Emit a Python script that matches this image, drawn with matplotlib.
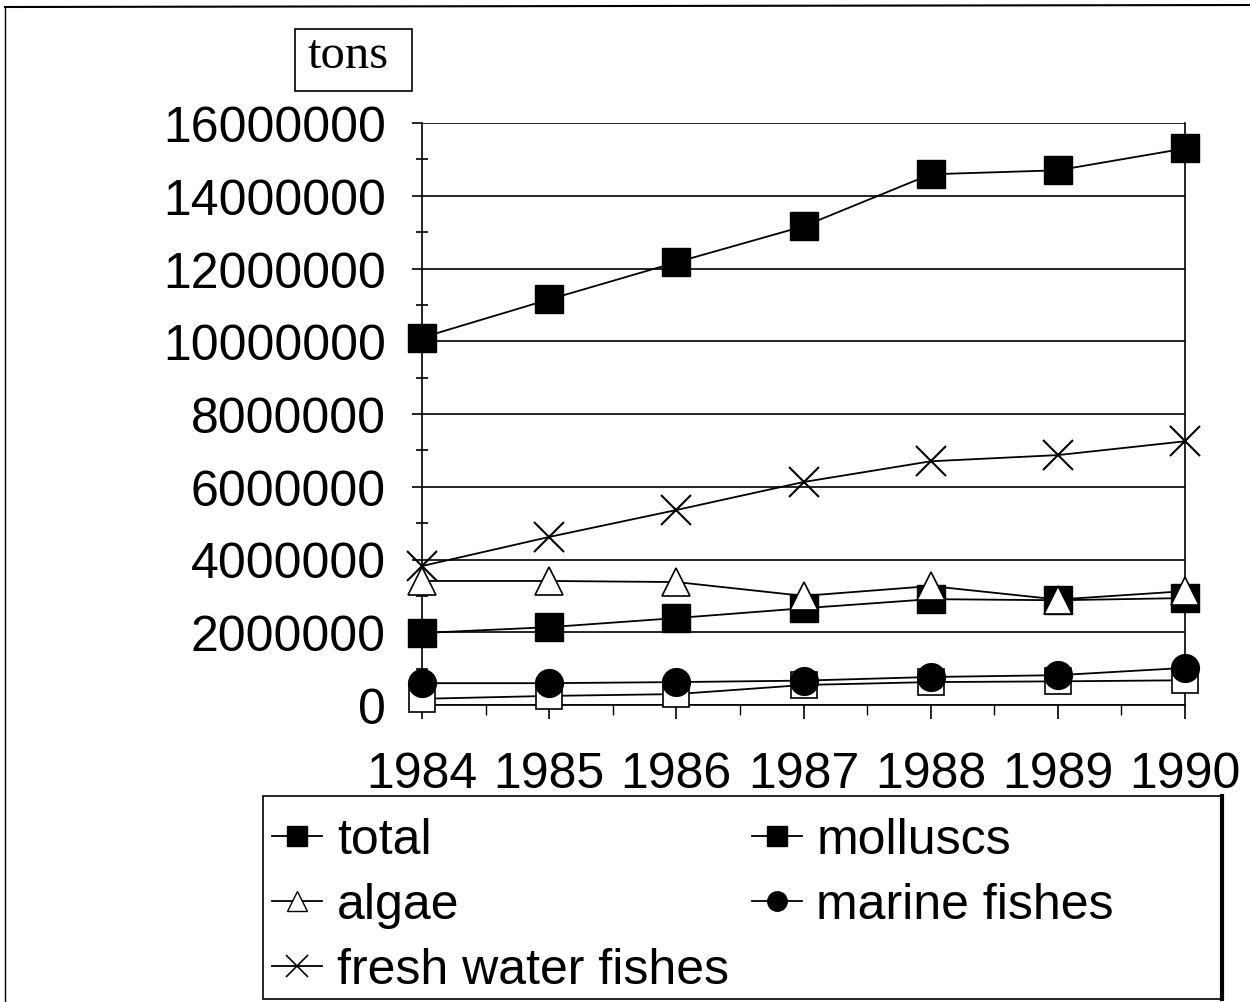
import matplotlib
matplotlib.use("Agg")
import matplotlib.pyplot as plt
from matplotlib.ticker import MultipleLocator
from matplotlib.lines import Line2D
from matplotlib.patches import Rectangle

years = [1984, 1985, 1986, 1987, 1988, 1989, 1990]
total = [10100000, 11150000, 12170000, 13160000, 14590000, 14700000, 15300000]
fresh_water_fishes = [3820000, 4620000, 5360000, 6130000, 6700000, 6870000, 7250000]
algae = [3410000, 3410000, 3380000, 3000000, 3270000, 2900000, 3130000]
molluscs = [1980000, 2140000, 2390000, 2660000, 2910000, 2880000, 2940000]
marine_fishes = [600000, 600000, 630000, 670000, 770000, 820000, 1020000]
other = [170000, 250000, 300000, 550000, 630000, 650000, 680000]
y_ticks = [0, 2000000, 4000000, 6000000, 8000000, 10000000, 12000000, 14000000, 16000000]

plt.rcParams['font.family'] = ['Liberation Sans', 'DejaVu Sans']

fig = plt.figure(figsize=(12.5, 10.03), dpi=100)
W, H = 1250, 1003
ax = fig.add_axes([422 / W, 1 - 706 / H, (1185 - 422) / W, (706 - 124) / H])

lw = 1.3
kw = dict(color='black', lw=lw, clip_on=False)
ax.plot(years, other, marker='s', ms=19, mfc='white', mec='black', mew=1.2, zorder=3, **kw)
ax.plot(years, marine_fishes, marker='o', ms=20, mfc='black', mec='black', zorder=4, **kw)
ax.plot(years, molluscs, marker='s', ms=20, mfc='black', mec='black', zorder=4, **kw)
ax.plot(years, algae, marker='^', ms=20, mfc='white', mec='black', mew=1.2, zorder=5, **kw)
ax.plot(years, fresh_water_fishes, marker='x', ms=22, mew=1.5, zorder=5, **kw)
ax.plot(years, total, marker='s', ms=20, mfc='black', mec='black', zorder=5, **kw)

ax.set_xlim(1984, 1990)
ax.set_ylim(0, 16000000)
ax.set_yticks(y_ticks)
ax.set_yticklabels([str(v) for v in y_ticks])
ax.set_xticks(years)
ax.set_xticklabels([str(y) for y in years])
ax.yaxis.set_minor_locator(MultipleLocator(1000000))
ax.xaxis.set_minor_locator(MultipleLocator(0.5))

ax.grid(axis='y', color='black', lw=1.2)
ax.set_axisbelow(True)
for s in ['left', 'right', 'bottom']:
    ax.spines[s].set_color('black')
    ax.spines[s].set_linewidth(1.2)
ax.spines['top'].set_visible(False)

ax.tick_params(axis='y', which='major', direction='out', length=7, width=1.2, pad=19, labelsize=36)
ax.tick_params(axis='y', which='minor', direction='inout', length=8, width=1.2)
ax.tick_params(axis='x', which='major', direction='out', length=10, width=1.2, pad=23, labelsize=36)
ax.tick_params(axis='x', which='minor', direction='out', length=7, width=1.0)

# "tons" box
fig.add_artist(Rectangle((295 / W, 1 - 92 / H), (412 - 295) / W, (92 - 30) / H,
                         transform=fig.transFigure, fc='white', ec='black', lw=1.2))
fig.text(348 / W, 1 - 68 / H, 'tons', family=['Liberation Serif', 'DejaVu Serif'], fontsize=35,
         ha='center', va='baseline')

# legend
handles = [
    Line2D([], [], color='black', lw=1.3, marker='s', ms=14, mfc='black', mec='black'),
    Line2D([], [], color='black', lw=1.3, marker='^', ms=14, mfc='white', mec='black', mew=1.0),
    Line2D([], [], color='black', lw=1.3, marker='x', ms=16, mew=1.2),
    Line2D([], [], color='black', lw=1.3, marker='s', ms=14, mfc='black', mec='black'),
    Line2D([], [], color='black', lw=1.3, marker='o', ms=14, mfc='black', mec='black'),
]
labels = ['total', 'algae', 'fresh water fishes', 'molluscs', 'marine fishes']
fig.add_artist(Rectangle((263 / W, 1 - 1000 / H), (1222 - 263) / W, (1000 - 797) / H,
                         transform=fig.transFigure, fc='white', ec='black', lw=1.2))
fig.add_artist(Line2D([1222 / W, 1222 / W], [1 - 1000 / H, 1 - 797 / H],
                      transform=fig.transFigure, color='black', lw=3))
leg = fig.legend(handles, labels, loc='upper left', ncol=2,
                 bbox_to_anchor=(272 / W, 1 - 818 / H), borderaxespad=0,
                 fontsize=36, frameon=False,
                 handlelength=1.0, handletextpad=0.3, columnspacing=0.45,
                 labelspacing=0.38, borderpad=0)

# outer border (top and left edges)
fig.add_artist(Line2D([5 / W, 1.0], [1 - 8 / H, 1 - 6 / H], transform=fig.transFigure, color='black', lw=1.5))
fig.add_artist(Line2D([5 / W, 5 / W], [1 - 8 / H, 0], transform=fig.transFigure, color='black', lw=1.0))

fig.savefig('out.png', dpi=100, facecolor='white')
